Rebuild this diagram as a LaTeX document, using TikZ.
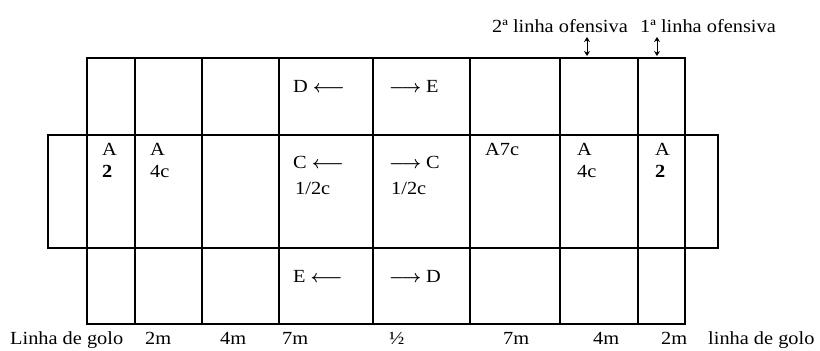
\documentclass[tikz,border=0pt]{standalone}
\usepackage{fontspec}
\usetikzlibrary{arrows.meta}
\setmainfont[FakeStretch=1.1]{Liberation Serif}
\newcommand{\lar}{\kern5pt$\boldsymbol{\longleftarrow}$}
\newcommand{\rar}{$\boldsymbol{\longrightarrow}$\kern5pt}
\usepackage{amsmath,amssymb,bm}
\begin{document}
\begin{tikzpicture}[x=1pt,y=-1pt,
  grid/.style={line width=1.4pt},
  lbl/.style={anchor=base west,inner sep=0pt,font=\fontsize{18.5}{20}\selectfont},
  dbl/.style={line width=1pt,{Stealth[length=5pt,width=6pt]}-{Stealth[length=5pt,width=6pt]}}]
\useasboundingbox (0,0) rectangle (820,351);
% field
\draw[grid] (87,58) rectangle (685,324);
\draw[grid] (48,135) rectangle (718,248);
\foreach \x in {135,202,279,373,470,560,638}
  \draw[grid] (\x,58) -- (\x,324);
% top row
\node[lbl] (d1) at (293,92) {D\lar};
\node[lbl] (e1) at (389,92) {\rar E};
% middle row
\node[lbl] (a1) at (102,155) {A};
\node[lbl] (n1) at (102,177) {\textbf{2}};
\node[lbl] (a2) at (150,155) {A};
\node[lbl] (n2) at (150,177) {4c};
\node[lbl] (c1) at (293,168) {C\lar};
\node[lbl] (h1) at (295,194) {1/2c};
\node[lbl] (c2) at (389,168) {\rar C};
\node[lbl] (h2) at (391,194) {1/2c};
\node[lbl] (a7) at (485,155) {A7c};
\node[lbl] (a3) at (577,155) {A};
\node[lbl] (n3) at (577,177) {4c};
\node[lbl] (a4) at (655,155) {A};
\node[lbl] (n4) at (655,177) {\textbf{2}};
% bottom row
\node[lbl] (e2) at (293,282) {E\lar};
\node[lbl] (d2) at (389,282) {\rar D};
% bottom labels
\node[lbl] (g1) at (10,344) {Linha de golo};
\node[lbl] (m1) at (145,344) {2m};
\node[lbl] (m2) at (220,344) {4m};
\node[lbl] (m3) at (282,344) {7m};
\node[lbl] (m4) at (389,344) {½};
\node[lbl] (m5) at (503,344) {7m};
\node[lbl] (m6) at (593,344) {4m};
\node[lbl] (m7) at (661,344) {2m};
\node[lbl] (g2) at (708,344) {linha de golo};
% top labels
\node[lbl] (l2) at (492,32) {2ª linha ofensiva};
\node[lbl] (l1) at (640,32) {1ª linha ofensiva};
\coordinate (p2t) at (587,37);
\coordinate (p2b) at (587,56);
\coordinate (p1t) at (657,37);
\coordinate (p1b) at (657,56);
\draw[dbl] (p2t) -- (p2b);
\draw[dbl] (p1t) -- (p1b);
\end{tikzpicture}
\end{document}
